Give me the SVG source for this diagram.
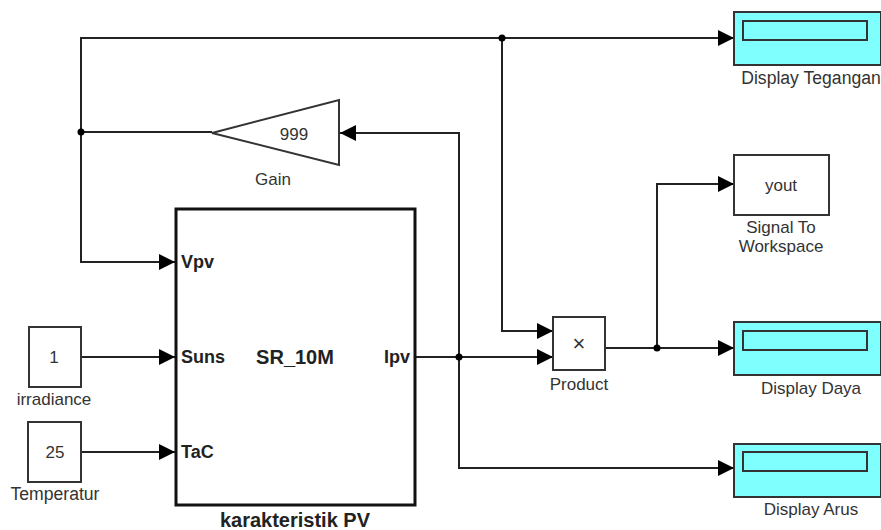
<svg xmlns="http://www.w3.org/2000/svg" width="881" height="530" viewBox="0 0 881 530">
<style>
text{font-family:"Liberation Sans",Arial,sans-serif;fill:#333;font-size:17px;text-anchor:middle}
.b{fill:#fff;stroke:#333;stroke-width:2}
.d{fill:#80ffff;stroke:#333;stroke-width:2}
.w{fill:none;stroke:#222;stroke-width:2}
.h{fill:#000;stroke:none}
.l{font-size:17.6px}
.p{font-weight:bold;font-size:18px;text-anchor:start;fill:#222}
.t{font-weight:bold;font-size:20px;fill:#222}
</style>
<defs><marker id="a" markerUnits="userSpaceOnUse" markerWidth="16" markerHeight="16" refX="16" refY="8" orient="auto"><path class="h" d="M0 0L16 8L0 16Z"/></marker></defs>
<rect width="881" height="530" fill="#fff"/>
<g id="connectors">
<path class="w" marker-end="url(#a)" d="M81 132V38H734"/>
<path class="w" marker-end="url(#a)" d="M81 132V262H175"/>
<path class="w" d="M212 132H81"/>
<path class="w" marker-end="url(#a)" d="M502 38V331H553"/>
<path class="w" marker-end="url(#a)" d="M415 357H553"/>
<path class="w" marker-end="url(#a)" d="M459 357V133H340"/>
<path class="w" marker-end="url(#a)" d="M459 357V468H734"/>
<path class="w" marker-end="url(#a)" d="M605 348H734"/>
<path class="w" marker-end="url(#a)" d="M657 348V184H734"/>
<path class="w" marker-end="url(#a)" d="M81 357H175"/>
<path class="w" marker-end="url(#a)" d="M81 452H175"/>
<circle class="h" cx="81" cy="132" r="3.5"/>
<circle class="h" cx="502" cy="38" r="3.5"/>
<circle class="h" cx="459" cy="357" r="3.5"/>
<circle class="h" cx="657" cy="348" r="3.5"/>
</g>
<g id="display-tegangan"><rect class="d" x="734" y="12" width="147" height="53"/><rect class="d" x="743" y="21" width="124" height="19"/><text class="l" x="811" y="84">Display Tegangan</text></g>
<g id="gain"><path class="b" d="M339 100V165L212 133Z"/><text x="294" y="140">999</text><text x="273" y="185">Gain</text></g>
<g id="signal-to-workspace"><rect class="b" x="734" y="155" width="95" height="60"/><text x="781" y="191">yout</text><text x="781" y="233">Signal To</text><text x="781" y="252">Workspace</text></g>
<g id="karakteristik-pv"><rect x="176" y="209" width="239" height="296" fill="#fff" stroke="#111" stroke-width="3"/>
<text class="p" x="181" y="268">Vpv</text><text class="p" x="181" y="363">Suns</text><text class="p" x="181" y="458">TaC</text><text class="p" x="384" y="363">Ipv</text>
<text class="t" x="295" y="364">SR_10M</text><text class="t" x="295" y="527">karakteristik PV</text></g>
<g id="irradiance"><rect class="b" x="29" y="327" width="52" height="60"/><text x="54" y="363">1</text><text x="54" y="405">irradiance</text></g>
<g id="temperatur"><rect class="b" x="28" y="422" width="53" height="60"/><text x="55" y="458">25</text><text class="l" x="55" y="500">Temperatur</text></g>
<g id="product"><rect class="b" x="553" y="317" width="52" height="53"/><text x="579" y="351" style="font-size:22px">×</text><text x="579" y="390">Product</text></g>
<g id="display-daya"><rect class="d" x="734" y="322" width="147" height="53"/><rect class="d" x="743" y="331" width="124" height="19"/><text x="811" y="394">Display Daya</text></g>
<g id="display-arus"><rect class="d" x="734" y="444" width="147" height="53"/><rect class="d" x="743" y="452" width="124" height="19"/><text x="811" y="515">Display Arus</text></g>
</svg>
